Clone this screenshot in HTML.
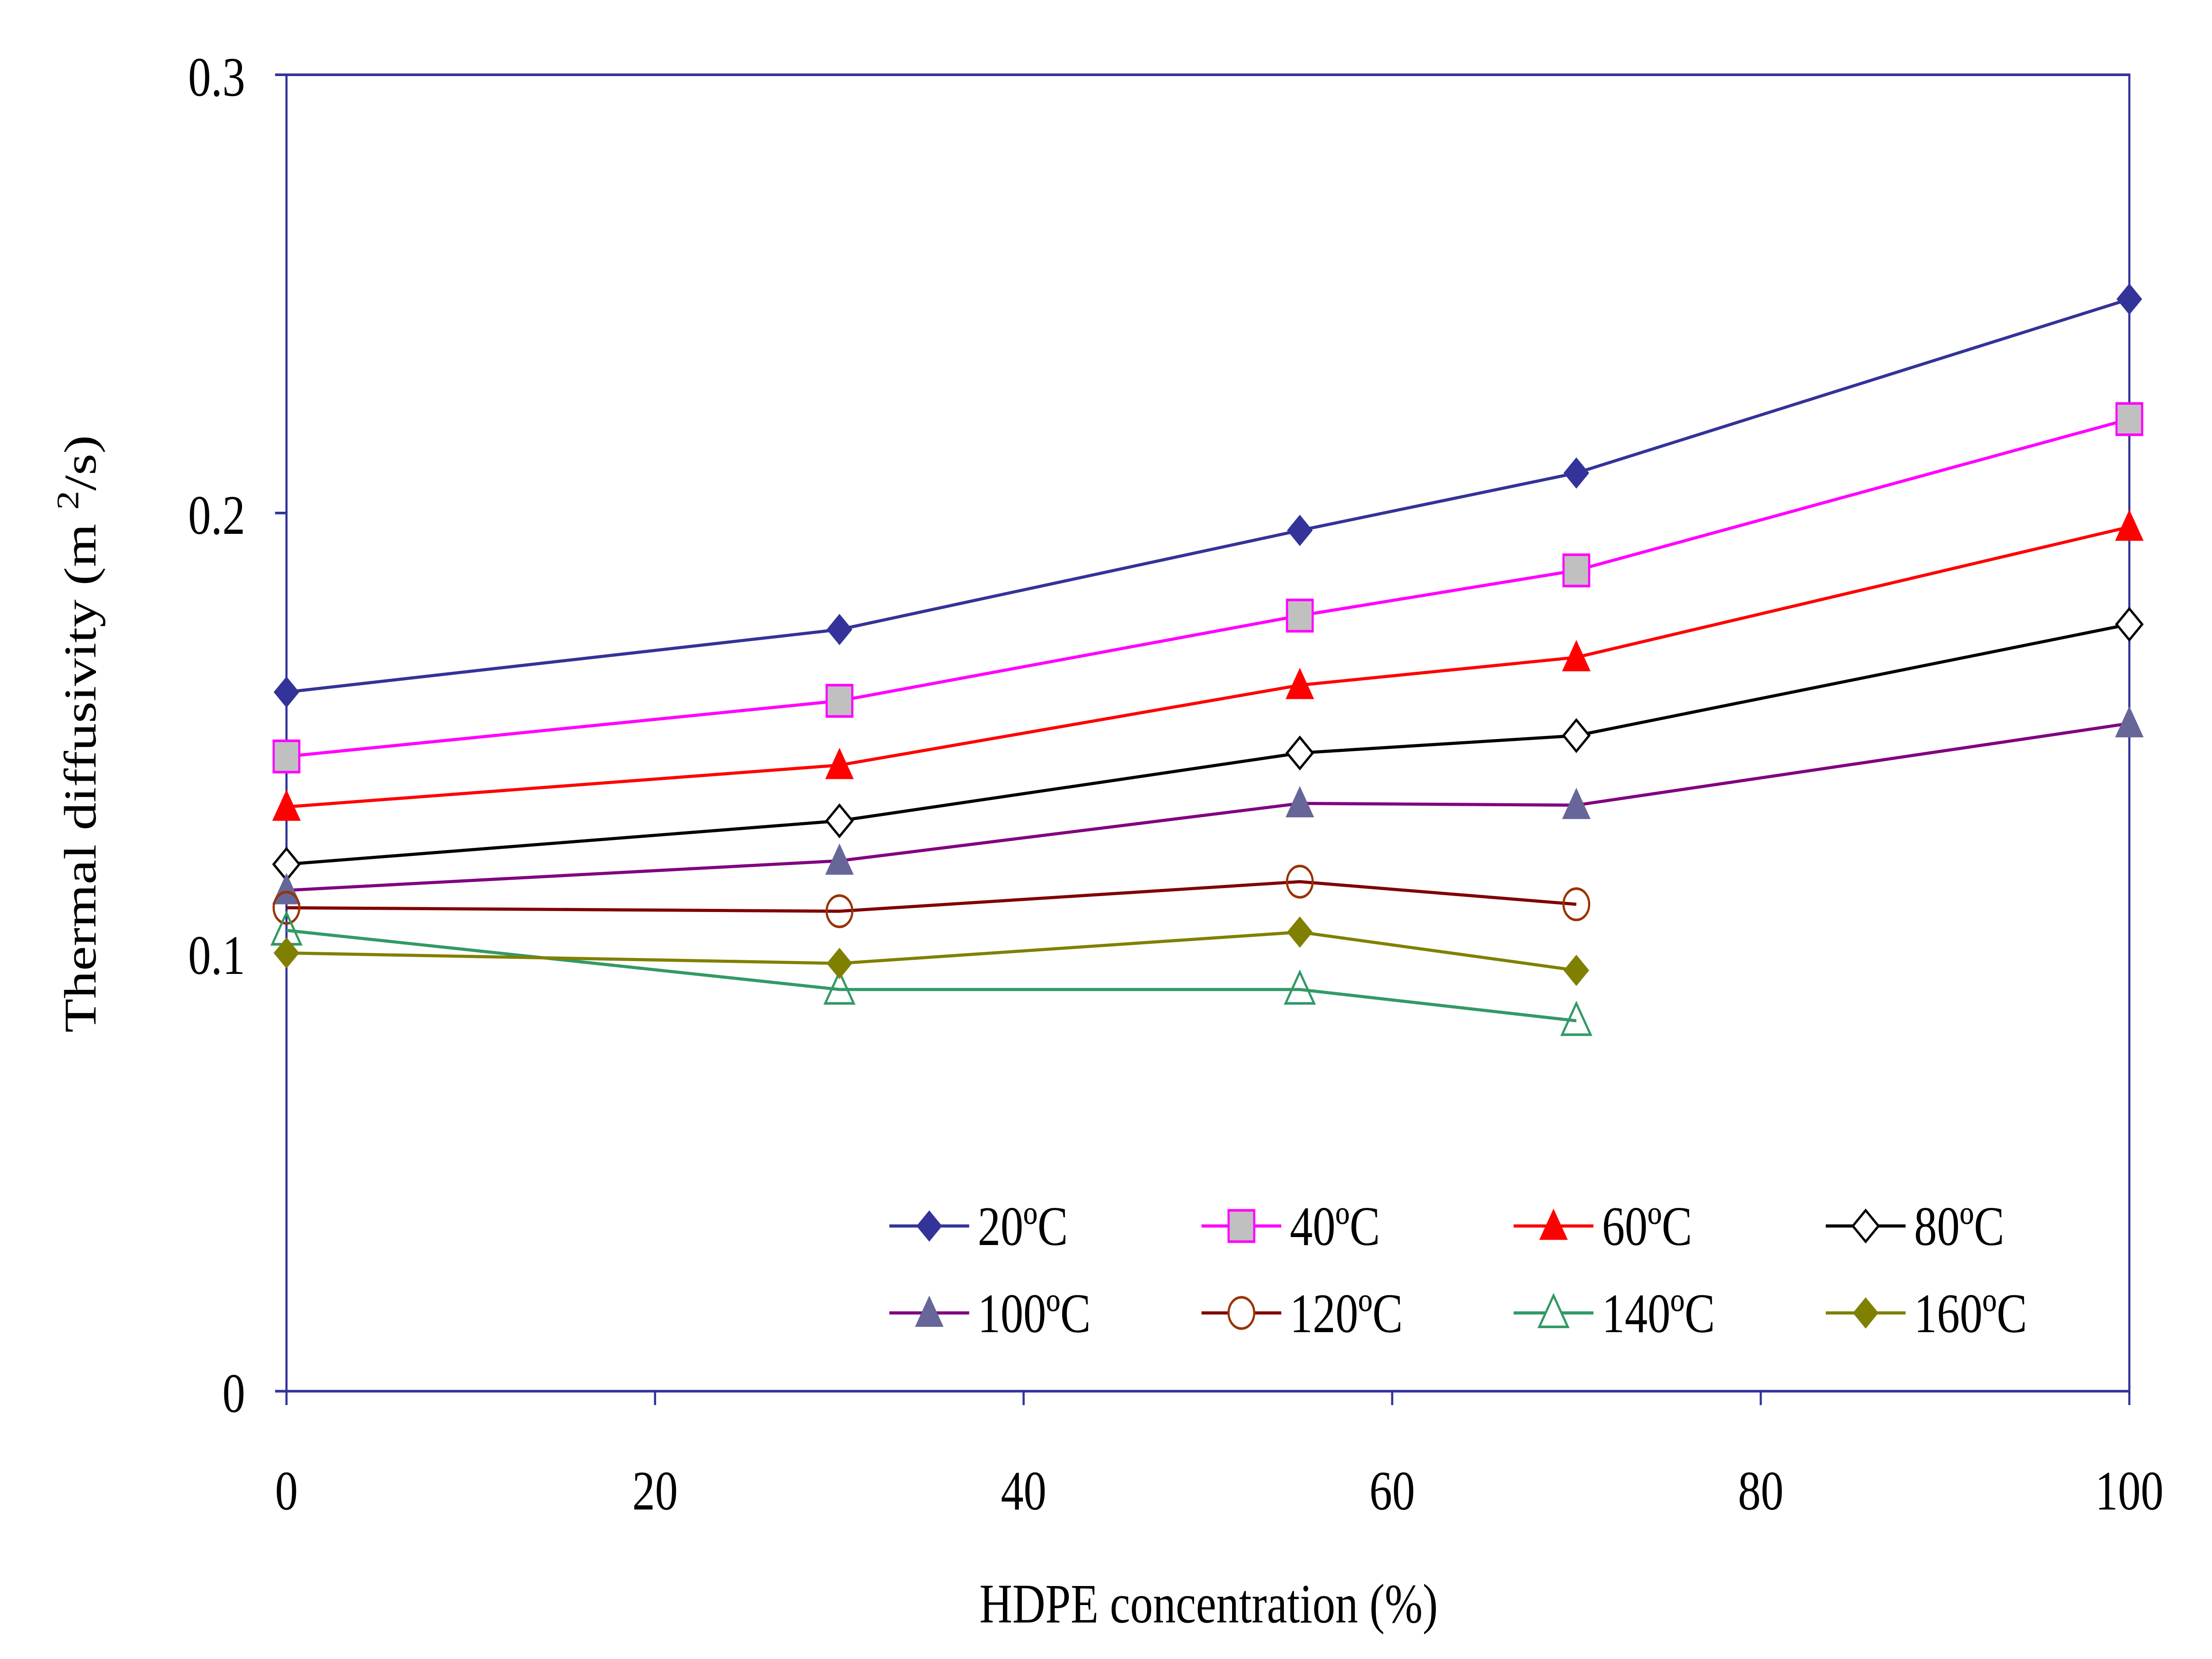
<!DOCTYPE html>
<html><head><meta charset="utf-8"><style>html,body{margin:0;padding:0;background:#fff;width:100%;height:100%;overflow:hidden}svg{display:block;width:100vw;height:100vh}</style></head>
<body>
<svg viewBox="0 0 1552 954" preserveAspectRatio="none" xmlns="http://www.w3.org/2000/svg" font-family="Liberation Serif, serif">
<rect width="1552" height="954" fill="#fff"/>
<defs>
<path id="dia" d="M0,-9 L9,0 L0,9 L-9,0 Z"/>
<path id="tri" d="M0,-10 L10,8 L-10,8 Z"/>
</defs>
<g stroke="#333399" stroke-width="1.5" fill="none">
<rect x="201" y="43" width="1293" height="757"/>
<line x1="193" y1="43" x2="201" y2="43"/><line x1="193" y1="295" x2="201" y2="295"/><line x1="193" y1="548" x2="201" y2="548"/><line x1="193" y1="800" x2="201" y2="800"/>
<line x1="201" y1="800" x2="201" y2="808"/><line x1="459.6" y1="800" x2="459.6" y2="808"/><line x1="718.2" y1="800" x2="718.2" y2="808"/><line x1="976.8" y1="800" x2="976.8" y2="808"/><line x1="1235.4" y1="800" x2="1235.4" y2="808"/><line x1="1494" y1="800" x2="1494" y2="808"/>
</g>
<g font-size="32" fill="#000" text-anchor="end">
<text x="172" y="55">0.3</text><text x="172" y="307">0.2</text><text x="172" y="560">0.1</text><text x="172" y="812">0</text>
</g>
<g font-size="32" fill="#000" text-anchor="middle">
<text x="201" y="868">0</text><text x="459.6" y="868">20</text><text x="718.2" y="868">40</text><text x="976.8" y="868">60</text><text x="1235.4" y="868">80</text><text x="1494" y="868">100</text>
<text x="848" y="933">HDPE concentration (%)</text>
</g>
<text transform="translate(67,422) rotate(-90)" font-size="32" text-anchor="middle">Thermal diffusivity (m <tspan dy="-12" font-size="22">2</tspan><tspan dy="12">/s)</tspan></text>
<g fill="none" stroke-width="1.8">
<polyline stroke="#333399" points="201,398 589,362 912,305 1106,272 1494,172"/>
<polyline stroke="#FF00FF" points="201,435 589,403 912,354 1106,328 1494,241"/>
<polyline stroke="#FF0000" points="201,464 589,440 912,394 1106,378 1494,303"/>
<polyline stroke="#000" points="201,497 589,472 912,433 1106,423 1494,359"/>
<polyline stroke="#800080" points="201,512 589,495 912,462 1106,463 1494,416"/>
<polyline stroke="#800000" points="201,522 589,524 912,507 1106,520"/>
<polyline stroke="#339966" points="201,535 589,569 912,569 1106,587"/>
<polyline stroke="#808000" points="201,548 589,554 912,536 1106,558"/>
</g>
<g fill="#333399"><use href="#dia" x="201" y="398"/><use href="#dia" x="589" y="362"/><use href="#dia" x="912" y="305"/><use href="#dia" x="1106" y="272"/><use href="#dia" x="1494" y="172"/></g>
<g fill="#C0C0C0" stroke="#FF00FF" stroke-width="1.5"><rect x="192" y="426" width="18" height="18"/><rect x="580" y="394" width="18" height="18"/><rect x="903" y="345" width="18" height="18"/><rect x="1097" y="319" width="18" height="18"/><rect x="1485" y="232" width="18" height="18"/></g>
<g fill="#FF0000"><use href="#tri" x="201" y="464"/><use href="#tri" x="589" y="440"/><use href="#tri" x="912" y="394"/><use href="#tri" x="1106" y="378"/><use href="#tri" x="1494" y="303"/></g>
<g fill="#fff" stroke="#000" stroke-width="1.5"><use href="#dia" x="201" y="497"/><use href="#dia" x="589" y="472"/><use href="#dia" x="912" y="433"/><use href="#dia" x="1106" y="423"/><use href="#dia" x="1494" y="359"/></g>
<g fill="#666699"><use href="#tri" x="201" y="512"/><use href="#tri" x="589" y="495"/><use href="#tri" x="912" y="462"/><use href="#tri" x="1106" y="463"/><use href="#tri" x="1494" y="416"/></g>
<g fill="none" stroke="#993300" stroke-width="1.5"><circle cx="201" cy="522" r="9"/><circle cx="589" cy="524" r="9"/><circle cx="912" cy="507" r="9"/><circle cx="1106" cy="520" r="9"/></g>
<g fill="none" stroke="#339966" stroke-width="1.5"><use href="#tri" x="201" y="535"/><use href="#tri" x="589" y="569"/><use href="#tri" x="912" y="569"/><use href="#tri" x="1106" y="587"/></g>
<g fill="#808000"><use href="#dia" x="201" y="548"/><use href="#dia" x="589" y="554"/><use href="#dia" x="912" y="536"/><use href="#dia" x="1106" y="558"/></g>
<g stroke-width="1.8">
<line x1="624" y1="705" x2="680" y2="705" stroke="#333399"/><use href="#dia" x="652" y="705" fill="#333399"/>
<line x1="843" y1="705" x2="899" y2="705" stroke="#FF00FF"/><rect x="862" y="696" width="18" height="18" fill="#C0C0C0" stroke="#FF00FF" stroke-width="1.5"/>
<line x1="1062" y1="705" x2="1118" y2="705" stroke="#FF0000"/><use href="#tri" x="1090" y="705" fill="#FF0000"/>
<line x1="1281" y1="705" x2="1337" y2="705" stroke="#000"/><use href="#dia" x="1309" y="705" fill="#fff" stroke="#000" stroke-width="1.5"/>
<line x1="624" y1="755" x2="680" y2="755" stroke="#800080"/><use href="#tri" x="652" y="755" fill="#666699"/>
<line x1="843" y1="755" x2="899" y2="755" stroke="#800000"/><circle cx="871" cy="755" r="9" fill="#fff" stroke="#993300" stroke-width="1.5"/>
<line x1="1062" y1="755" x2="1118" y2="755" stroke="#339966"/><use href="#tri" x="1090" y="755" fill="#fff" stroke="#339966" stroke-width="1.5"/>
<line x1="1281" y1="755" x2="1337" y2="755" stroke="#808000"/><use href="#dia" x="1309" y="755" fill="#808000"/>
</g>
<g font-size="32" fill="#000">
<text x="686" y="716">20ºC</text><text x="905" y="716">40ºC</text><text x="1124" y="716">60ºC</text><text x="1343" y="716">80ºC</text>
<text x="686" y="766">100ºC</text><text x="905" y="766">120ºC</text><text x="1124" y="766">140ºC</text><text x="1343" y="766">160ºC</text>
</g>
</svg>
</body></html>
